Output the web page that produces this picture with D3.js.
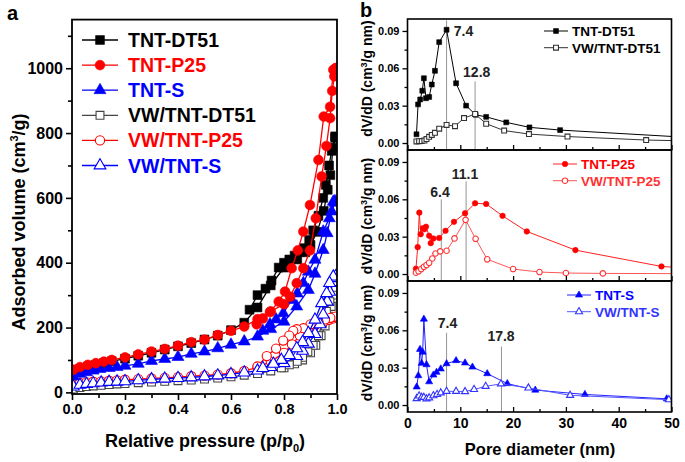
<!DOCTYPE html>
<html><head><meta charset="utf-8">
<script src="https://cdn.jsdelivr.net/npm/d3@7"></script>
<style>
body{margin:0;background:#fff}
text{font-family:"Liberation Sans",Arial,sans-serif;font-weight:bold}
</style>
</head><body>
<svg id="c" width="685" height="462"></svg>
<script>
// ---------- Panel a: isotherms ----------
const pDT51Ads = [0.005,0.03,0.06,0.09,0.12,0.15,0.2,0.25,0.3,0.35,0.4,0.45,0.5,0.55,0.6,0.65,0.7,0.75,0.8,0.85,0.88,0.9,0.925,0.95,0.965,0.975,0.985,0.993];
const vDT51Ads = [63,72,79,85,90,96,104,113,122,132,142,152,163,175,192,215,262,330,385,410,432,455,495,560,625,670,755,785];
const pDT51Des = [0.993,0.98,0.97,0.958,0.948,0.93,0.91,0.895,0.875,0.86,0.84,0.82,0.8,0.78,0.753,0.73,0.7,0.67];
const vDT51Des = [790,745,700,640,600,545,500,470,445,434,422,410,400,385,345,320,300,255];

const pP25Ads = [0.005,0.03,0.06,0.09,0.12,0.15,0.2,0.25,0.3,0.35,0.4,0.45,0.5,0.55,0.6,0.65,0.7,0.75,0.8,0.823,0.848,0.873,0.898,0.92,0.942,0.96,0.974,0.982,0.99,0.995];
const vP25Ads = [70,78,85,90,95,100,108,117,126,134,144,155,163,177,190,203,226,250,272,295,337,383,438,537,666,760,846,930,975,1000];
const pP25Des = [0.995,0.986,0.974,0.95,0.93,0.898,0.873,0.852,0.829,0.804,0.78,0.747,0.72,0.697];
const vP25Des = [1000,995,881,851,717,578,496,438,383,311,280,248,228,210];

const pSAds = [0.005,0.03,0.055,0.08,0.105,0.14,0.17,0.2,0.25,0.3,0.35,0.4,0.45,0.5,0.55,0.6,0.65,0.7,0.75,0.8,0.848,0.892,0.917,0.948,0.963,0.98,0.992];
const vSAds = [49,57,62,67,72,75,78,82,88,97,103,109,119,126,136,147,157,172,195,218,265,316,366,439,491,558,585];
const pSDes = [0.992,0.986,0.971,0.948,0.917,0.892,0.873,0.85,0.829,0.797,0.77,0.747,0.72];
const vSDes = [590,588,537,496,409,372,337,305,285,244,225,210,190];

const pVDT51Ads = [0.005,0.03,0.055,0.08,0.11,0.14,0.17,0.2,0.25,0.3,0.35,0.4,0.45,0.5,0.55,0.6,0.65,0.7,0.75,0.8,0.84,0.87,0.9,0.92,0.94,0.955,0.967,0.978,0.988,0.995];
const vVDT51Ads = [10,15,18,20,22,24,26,27,30,32,34,36,38,41,44,48,53,58,66,76,88,100,122,145,175,205,235,265,290,310];
const pVDT51Des = [0.995,0.985,0.973,0.96,0.945,0.93,0.91,0.89,0.87,0.85,0.82,0.79];
const vVDT51Des = [315,300,280,250,215,175,145,125,108,96,85,76];

const pVP25Ads = [0.005,0.03,0.055,0.08,0.11,0.14,0.17,0.2,0.25,0.3,0.35,0.4,0.45,0.5,0.55,0.6,0.65,0.7,0.75,0.8,0.83,0.86,0.89,0.92,0.95,0.97,0.985,0.995];
const vVP25Ads = [25,29,31,33,34,36,37,39,41,43,45,47,50,52,55,59,66,77,95,122,148,175,195,210,218,224,228,232];
const pVP25Des = [0.995,0.975,0.955,0.93,0.9,0.873,0.848,0.835,0.82,0.797,0.77,0.735,0.7];
const vVP25Des = [234,230,225,218,210,198,195,190,175,160,135,112,80];

const pVSAds = [0.005,0.03,0.055,0.08,0.11,0.14,0.17,0.2,0.25,0.3,0.35,0.4,0.45,0.5,0.55,0.6,0.65,0.7,0.75,0.8,0.848,0.87,0.892,0.917,0.936,0.948,0.963,0.972,0.986,0.995];
const vVSAds = [18,23,26,28,30,32,33,34,37,40,42,44,46,49,52,56,61,67,78,90,112,128,150,180,210,240,280,310,340,352];
const pVSDes = [0.995,0.986,0.972,0.961,0.942,0.917,0.892,0.87,0.848,0.82,0.79,0.76,0.72];
const vVSDes = [358,357,337,306,275,224,183,155,136,115,100,88,75];

const isoLegend = ["TNT-DT51","TNT-P25","TNT-S","VW/TNT-DT51","VW/TNT-P25","VW/TNT-S"];
const yTicksA = [0,200,400,600,800,1000];
const yMinorA = [100,300,500,700,900,1100];
const xTicksA = [0,0.2,0.4,0.6,0.8,1.0];
const xMinorA = [0.1,0.3,0.5,0.7,0.9];

// ---------- Panel b: pore size distributions ----------
const poreDT51 = [1.7,2.0,2.4,2.8,3.1,3.5,4.1,4.6,5.2,6.0,7.4,9.2,11.1,12.9,14.9,18.7,23.1,28.9,52];
const dvDT51   = [0.007,0.031,0.035,0.042,0.052,0.036,0.037,0.047,0.058,0.081,0.091,0.048,0.030,0.0227,0.021,0.0166,0.0126,0.0104,0.0048];
const poreVWDT51 = [1.7,2.2,2.7,3.2,3.6,4.1,4.6,5.2,6.0,7.4,9.0,10.7,12.8,14.9,18.3,23.0,30.3,45.2,52];
const dvVWDT51   = [0.0013,0.0015,0.0016,0.0020,0.0032,0.0050,0.0065,0.0082,0.0115,0.0145,0.0135,0.020,0.0233,0.0155,0.0100,0.0072,0.0052,0.0024,0.0018];

const poreP25 = [1.6,1.93,2.24,2.5,2.9,3.2,3.5,4.1,4.4,4.9,6.0,7.2,8.8,10.9,12.8,14.9,18.0,22.6,31.8,48.1,52];
const dvP25   = [0.0043,0.0216,0.0493,0.032,0.0368,0.036,0.038,0.0307,0.0248,0.0285,0.029,0.0347,0.0419,0.0488,0.0568,0.0563,0.0467,0.0342,0.0192,0.0061,0.005];
const poreVWP25 = [1.6,2.1,2.6,3.1,3.6,4.1,4.7,5.3,6.2,7.4,8.9,11.0,12.9,15.1,20.0,25.0,30.0,37.0,52];
const dvVWP25   = [0.001,0.0022,0.004,0.0058,0.0072,0.009,0.0125,0.0165,0.0182,0.0187,0.0286,0.0435,0.0283,0.0118,0.004,0.0016,0.0008,0.0005,0.0003];

const poreS = [1.74,2.05,2.37,2.68,2.87,3.1,3.6,4.1,4.9,5.5,6.3,7.4,9.2,10.9,12.3,15.1,18.9,24.2,33.6,49.1,52];
const dvS   = [0.0145,0.0236,0.0447,0.0335,0.0425,0.069,0.0324,0.0187,0.0241,0.0263,0.029,0.0332,0.0357,0.0338,0.0305,0.0252,0.0172,0.012,0.0085,0.005,0.004];
const poreVWS = [1.74,2.2,2.68,3.1,3.6,4.1,4.9,5.6,6.3,7.4,9.2,10.9,12.6,14.8,17.7,22.9,30.8,49.5,52];
const dvVWS   = [0.0052,0.0073,0.0062,0.0062,0.005,0.0058,0.0075,0.0085,0.0098,0.011,0.011,0.0108,0.0125,0.015,0.017,0.0137,0.0078,0.0043,0.0038];

const peakPos = [[7.4,12.8],[6.4,11.1],[7.4,17.8]];
const peakTop = [[0.0985,0.0495],[0.06,0.0745],[0.058,0.047]];
const peakText = [["7.4","12.8"],["6.4","11.1"],["7.4","17.8"]];
const psdLegend = [["TNT-DT51","VW/TNT-DT51"],["TNT-P25","VW/TNT-P25"],["TNT-S","VW/TNT-S"]];
const yTicksB = [0,0.03,0.06,0.09];
const yMinorB = [0.015,0.045,0.075];
const xTicksB = [0,10,20,30,40,50];
const xMinorB = [5,15,25,35,45];

// ---------- drawing ----------
const svg = d3.select("#c");
const zip = (a,b)=>a.map((d,i)=>[d,b[i]]);
const symType = {sq:d3.symbolSquare, ci:d3.symbolCircle, tr:d3.symbolTriangle};

function series(g, pts, sx, sy, opt){
  g.append("path").datum(pts)
    .attr("d", d3.line().x(d=>sx(d[0])).y(d=>sy(d[1])))
    .attr("fill","none").attr("stroke",opt.line||opt.color).attr("stroke-width",opt.lw);
  g.selectAll(null).data(pts).enter().append("path")
    .attr("transform",d=>`translate(${sx(d[0])},${sy(d[1])})`)
    .attr("d", d3.symbol().type(symType[opt.sym]).size(opt.size))
    .attr("fill", opt.filled?opt.color:"#fff")
    .attr("stroke", opt.color).attr("stroke-width", opt.filled?0.6:1.1);
}

// Panel a
const xA = d3.scaleLinear([0,1],[72,337]);
const yA = d3.scaleLinear([-5,1150],[394,19.6]);
svg.append("clipPath").attr("id","clipA").append("rect")
  .attr("x",72).attr("y",19.6).attr("width",265).attr("height",374.4);
const gA = svg.append("g").attr("clip-path","url(#clipA)");

const isoSets = [
  {ads:[pDT51Ads,vDT51Ads],des:[pDT51Des,vDT51Des],color:"#000",sym:"sq",filled:true,size:78},
  {ads:[pVDT51Ads,vVDT51Ads],des:[pVDT51Des,vVDT51Des],color:"#444",sym:"sq",filled:false,size:62},
  {ads:[pVP25Ads,vVP25Ads],des:[pVP25Des,vVP25Des],color:"#f00",sym:"ci",filled:false,size:66},
  {ads:[pVSAds,vVSAds],des:[pVSDes,vVSDes],color:"#00f",sym:"tr",filled:false,size:60},
  {ads:[pSAds,vSAds],des:[pSDes,vSDes],color:"#00f",sym:"tr",filled:true,size:62},
  {ads:[pP25Ads,vP25Ads],des:[pP25Des,vP25Des],color:"#f00",sym:"ci",filled:true,size:75}
];
isoSets.forEach(s=>{
  series(gA, zip(...s.ads), xA, yA, {color:s.color,sym:s.sym,filled:s.filled,size:s.size,lw:1.3});
  series(gA, zip(...s.des), xA, yA, {color:s.color,sym:s.sym,filled:s.filled,size:s.size,lw:1.3});
});

// axes a
const axA = svg.append("g");
axA.append("g").attr("transform","translate(72,0)")
  .call(d3.axisLeft(yA).tickValues(yTicksA).tickSize(6).tickPadding(3).tickFormat(d3.format("d")))
  .call(g=>g.select(".domain").remove())
  .call(g=>g.selectAll("text").style("font-size","16px").attr("fill","#000"))
  .call(g=>g.selectAll("line").attr("stroke-width",1.6));
axA.append("g").attr("transform","translate(72,0)")
  .call(d3.axisLeft(yA).tickValues(yMinorA).tickSize(4).tickFormat(""))
  .call(g=>g.select(".domain").remove())
  .call(g=>g.selectAll("line").attr("stroke-width",1.6));
axA.append("g").attr("transform","translate(0,394)")
  .call(d3.axisBottom(xA).tickValues(xTicksA).tickSize(6).tickPadding(4).tickFormat(d3.format(".1f")))
  .call(g=>g.select(".domain").remove())
  .call(g=>g.selectAll("text").style("font-size","14.5px").attr("fill","#000"))
  .call(g=>g.selectAll("line").attr("stroke-width",1.6));
axA.append("g").attr("transform","translate(0,394)")
  .call(d3.axisBottom(xA).tickValues(xMinorA).tickSize(4).tickFormat(""))
  .call(g=>g.select(".domain").remove())
  .call(g=>g.selectAll("line").attr("stroke-width",1.6));
svg.append("rect").attr("x",72).attr("y",19.6).attr("width",265).attr("height",374.4)
  .attr("fill","none").attr("stroke","#000").attr("stroke-width",1.8);

// axis titles a
const ty = svg.append("text").attr("transform","translate(25,222) rotate(-90)")
  .attr("text-anchor","middle").style("font-size","18px");
ty.append("tspan").text("Adsorbed volume (cm");
ty.append("tspan").text("3").attr("dy",-7).style("font-size","11px");
ty.append("tspan").text("/g)").attr("dy",7);
const tx = svg.append("text").attr("x",205).attr("y",447).attr("text-anchor","middle").style("font-size","18px");
tx.append("tspan").text("Relative pressure (p/p");
tx.append("tspan").text("0").attr("dy",5).style("font-size","11px");
tx.append("tspan").text(")").attr("dy",-5);
svg.append("text").attr("x",7).attr("y",20).text("a").style("font-size","20px");

// legend a
const legA = isoLegend.map((t,i)=>({t, s:[isoSets[0],isoSets[5],isoSets[4],isoSets[1],isoSets[2],isoSets[3]][i]}));
legA.forEach((d,i)=>{
  const cy = 40 + i*25.1;
  svg.append("line").attr("x1",82).attr("x2",118).attr("y1",cy).attr("y2",cy)
    .attr("stroke",d.s.color).attr("stroke-width",1.3);
  svg.append("path").attr("transform",`translate(100,${cy})`)
    .attr("d", d3.symbol().type(symType[d.s.sym]).size(d.s.size))
    .attr("fill", d.s.filled?d.s.color:"#fff").attr("stroke",d.s.color).attr("stroke-width",d.s.filled?0.6:1.1);
  svg.append("text").attr("x",128).attr("y",cy+7).text(d.t)
    .style("font-size","19.5px").attr("fill", d.s.color==="#444"?"#000":d.s.color);
});

// Panel b
const xB = d3.scaleLinear([0,50],[407.5,671.5]);
const panelH = 131;
const psdSets = [
  [{x:poreDT51,y:dvDT51,color:"#000",line:"#000",sym:"sq",filled:true},
   {x:poreVWDT51,y:dvVWDT51,color:"#333",line:"#333",sym:"sq",filled:false}],
  [{x:poreP25,y:dvP25,color:"#f00",line:"#f22",sym:"ci",filled:true},
   {x:poreVWP25,y:dvVWP25,color:"#f33",line:"#f55",sym:"ci",filled:false}],
  [{x:poreS,y:dvS,color:"#00f",line:"#22f",sym:"tr",filled:true},
   {x:poreVWS,y:dvVWS,color:"#33f",line:"#55f",sym:"tr",filled:false}]
];
const legX = [544,553,567];
const legY = [31,164,295];
psdSets.forEach((sets,pi)=>{
  const top = 19 + pi*panelH;
  const yB = d3.scaleLinear([-0.0056,0.0996],[top+panelH, top]);
  svg.append("clipPath").attr("id","clipB"+pi).append("rect")
    .attr("x",407.5).attr("y",top).attr("width",264).attr("height",panelH);
  const g = svg.append("g").attr("clip-path",`url(#clipB${pi})`);
  // reference lines
  peakPos[pi].forEach((p,k)=>{
    g.append("line").attr("x1",xB(p)).attr("x2",xB(p)).attr("y1",yB(peakTop[pi][k])).attr("y2",top+panelH)
      .attr("stroke","#888").attr("stroke-width",0.9);
  });
  sets.forEach(s=>{
    series(g, zip(s.x,s.y), xB, yB, {color:s.color,line:s.line,sym:s.sym,filled:s.filled,
      size: s.sym==="tr"?22:(s.sym==="sq"?24:24), lw:1});
  });
  // peak labels
  peakText[pi].forEach((t,k)=>{
    const lp = [[[463.5,35.5],[476.7,77.3]],[[440,196.7],[465,179.3]],[[447.5,328.3],[501,341]]][pi][k];
    svg.append("text").attr("x",lp[0]).attr("y",lp[1]).attr("text-anchor","middle")
      .text(t).style("font-size","14px").attr("fill","#222");
  });
  // axes
  svg.append("g").attr("transform","translate(407.5,0)")
    .call(d3.axisLeft(yB).tickValues(yTicksB).tickSize(5).tickPadding(3).tickFormat(d3.format(".2f")))
    .call(a=>a.select(".domain").remove())
    .call(a=>a.selectAll("text").style("font-size","11px").attr("fill","#000"))
    .call(a=>a.selectAll("line").attr("stroke-width",1.3));
  svg.append("g").attr("transform","translate(407.5,0)")
    .call(d3.axisLeft(yB).tickValues(yMinorB).tickSize(3).tickFormat(""))
    .call(a=>a.select(".domain").remove())
    .call(a=>a.selectAll("line").attr("stroke-width",1.3));
  svg.append("g").attr("transform",`translate(0,${top+panelH})`)
    .call(d3.axisBottom(xB).tickValues(xTicksB).tickSize(-5).tickPadding(6)
      .tickFormat(pi===2?d3.format("d"):()=>""))
    .call(a=>a.select(".domain").remove())
    .call(a=>a.selectAll("text").style("font-size","14px").attr("fill","#000"))
    .call(a=>a.selectAll("line").attr("stroke-width",1.3));
  svg.append("g").attr("transform",`translate(0,${top+panelH})`)
    .call(d3.axisBottom(xB).tickValues(xMinorB).tickSize(-3).tickFormat(""))
    .call(a=>a.select(".domain").remove())
    .call(a=>a.selectAll("line").attr("stroke-width",1.3));
  svg.append("rect").attr("x",407.5).attr("y",top).attr("width",264).attr("height",panelH)
    .attr("fill","none").attr("stroke","#000").attr("stroke-width",1.6);
  // y title
  const tcy = [78.5,216,343][pi];
  const t = svg.append("text").attr("transform",`translate(372,${tcy}) rotate(-90)`)
    .attr("text-anchor","middle").style("font-size","14px");
  t.append("tspan").text("dV/dD (cm");
  t.append("tspan").text("3").attr("dy",-5).style("font-size","9px");
  t.append("tspan").text("/g nm)").attr("dy",5);
  // legend
  sets.forEach((s,k)=>{
    const cy = legY[pi] + k*16.7;
    svg.append("line").attr("x1",legX[pi]).attr("x2",legX[pi]+24).attr("y1",cy).attr("y2",cy)
      .attr("stroke",s.line).attr("stroke-width",1);
    svg.append("path").attr("transform",`translate(${legX[pi]+12},${cy})`)
      .attr("d", d3.symbol().type(symType[s.sym]).size(s.sym==="tr"?22:24))
      .attr("fill", s.filled?s.color:"#fff").attr("stroke",s.color).attr("stroke-width",s.filled?0.6:1.1);
    svg.append("text").attr("x",legX[pi]+28).attr("y",cy+5).text(psdLegend[pi][k])
      .style("font-size","13.5px").attr("fill", pi===0?"#000":s.color);
  });
});
svg.append("text").attr("x",540).attr("y",455).attr("text-anchor","middle")
  .text("Pore diameter (nm)").style("font-size","16.5px");
svg.append("text").attr("x",360).attr("y",17).text("b").style("font-size","20px");
</script>
</body></html>
